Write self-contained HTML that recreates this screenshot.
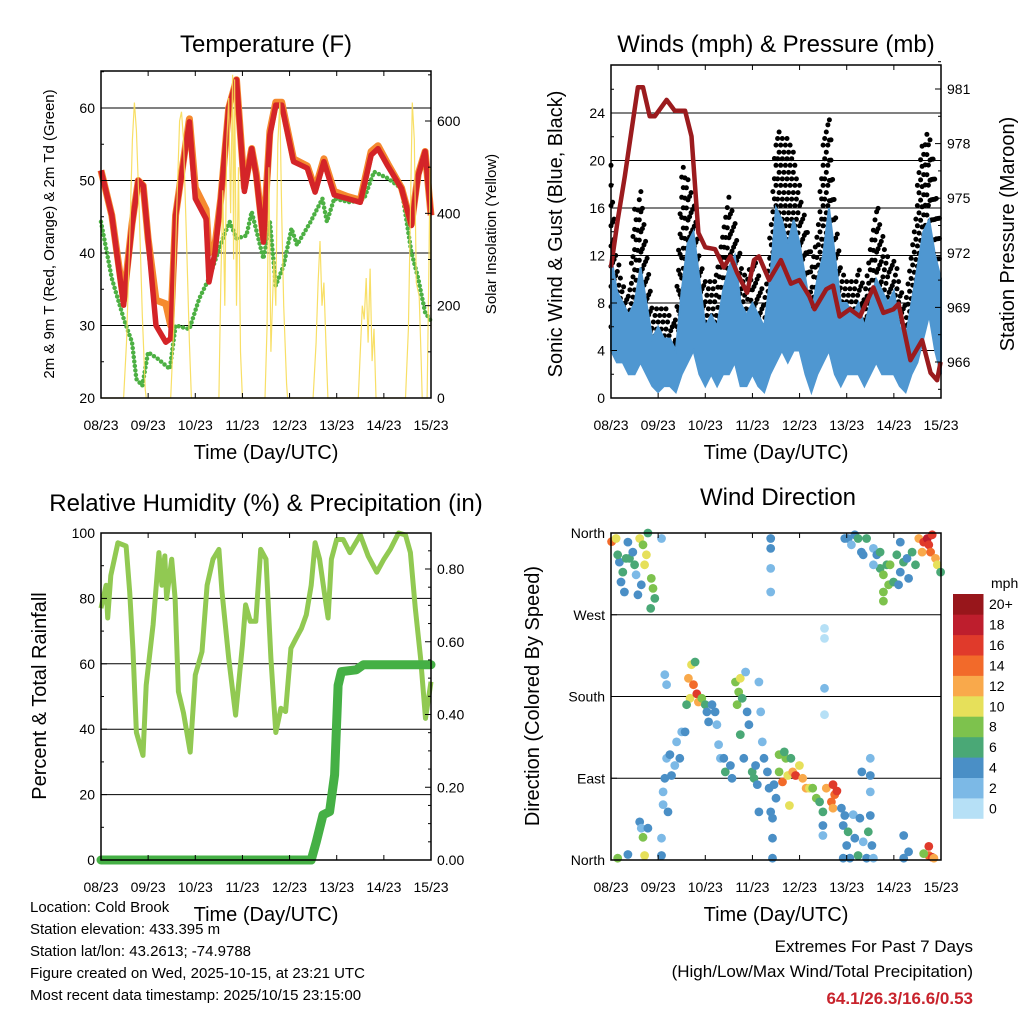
<!DOCTYPE html>
<html><head><meta charset="utf-8"><style>
html,body{margin:0;padding:0;background:#fff;}
svg{display:block;font-family:"Liberation Sans",sans-serif;}
</style></head><body>
<svg id="chart" width="1024" height="1024" viewBox="0 0 1024 1024" xmlns="http://www.w3.org/2000/svg"></svg>
<script>
// ---------- DATA ----------
const dayLabels = ["08/23","09/23","10/23","11/23","12/23","13/23","14/23","15/23"];
const tempHours = [0,5.5,11.5,15.8,19,21.5,24,28,33,35.5,38,45,48,53.5,55,58,61,65,69,73,76.7,79,82.7,86,89,92,98,105,109,113.5,118.7,125.5,132,137.5,141,146,153,158,161.5,165,168];
const tempRed =   [51.4,45.2,32.8,43.8,50,49.3,42,30,27.7,28.2,45.2,58.1,47.5,44.7,36,40,47.5,60,63.9,48.5,54.4,50.7,41.5,56.3,60.4,60.4,52.6,51.7,48.4,52.6,48,47.5,47,53.5,54.4,52,48.9,43.8,50.7,54,45.2];
const tempOrange =[51.4,45.2,33.5,44,50,49.3,42,33.5,33,30,45.2,58.5,49,46,40,41,47.5,60,63.9,49,54.4,51,42,56.8,60.8,60.8,53,52,48.8,53,48.5,47.8,47.3,54,54.8,52.3,49,44,50.9,54,45.2];
const dewHours = [0,5.5,11.5,15.8,18,21,24,29,35,38,45,50,55,62,65.5,69,74,76.7,82.7,86,89,93,97,99.8,106.7,112.7,115,118.7,127,134,139,146,153,158,161.5,165,168];
const dewValues = [44.3,36.5,31,27.7,22.6,21.7,26.3,25.4,24,30,29.5,33.7,36.5,42,44.3,42,42.4,45.7,39.2,44.3,35.5,38.3,43.4,41.1,44.3,47.5,44.3,47.5,47,47.5,51.2,50.3,48.9,40.1,36.5,31.8,30.6];
const solarHours = [0,11.5,13,14.5,16,17,18,19.5,21,22.5,23,35.5,37,38.5,40,41,42,43.5,45,46,60,61,62,63,64,65,66,67,67.5,68,69,70,71,72,83.5,84.5,85.5,86.5,88,89,90,91,92,93,94.5,95,108,109.5,110.5,111.5,112.5,113.5,114.5,115.5,131,132,133,134,135,136,137,138,139,140,155,156.5,157.5,158.5,159.5,160.5,162,163,163.5,166,167,167.5,168];
const solarValues = [0,0,120,330,560,640,580,400,180,20,0,0,150,400,600,620,560,350,120,0,0,250,450,200,550,650,400,700,300,690,200,500,100,0,0,150,500,100,300,200,550,640,400,200,30,0,0,120,250,340,200,250,120,0,0,100,200,170,260,120,280,80,150,0,0,150,400,640,560,250,220,80,0,0,300,500,150];
const windHours = [0,3,6,9,12,15,18,21,24,27,30,33,36,39,42,45,48,51,54,57,60,63,66,69,72,75,78,81,84,87,90,93,96,99,102,105,108,111,114,117,120,123,126,129,132,135,138,141,144,147,150,153,156,159,162,165,168];
const windLow =  [4,3,3,2,2,3,2,1,0.5,1,1,0.5,2,3,4,2,1,2,1,2,2,3,1,1,2,1,0.5,2,3,4,3,4,4,2,0.5,2,3,4,2,1,2,2,2,1,2,3,2,2,2,1,0.5,2,3,5,7,4,2];
const windHigh = [12,9,8,7,8,11,8,5,6,5,5,4,9,13,14,10,6,7,6,9,11,12,8,7,8,7,6,10,16,15,13,15,13,10,7,10,12,16,12,8,8,7,8,6,8,10,9,8,9,6,5,8,11,14,15,12,10];
const gustLow =  [6,5,5,4,4,5,4,3,3,3,3,2,5,6,5,4,3,3,3,4,5,4,3,3,4,3,2,4,6,6,6,6,6,5,3,4,6,6,4,3,3,3,3,2,4,5,4,4,3,3,2,4,6,8,9,7,5];
const gustHigh = [20,12,10,9,16,18,13,8,8,8,7,7,20,19,17,12,10,10,12,14,17,15,12,10,12,11,9,14,23,22,22,21,18,15,12,14,22,25,16,11,10,10,12,9,13,17,14,12,12,10,8,13,18,22,23,19,14];
const pressHours = [0,3.4,7,10.3,13.7,16.3,19.7,22.3,28.3,32.5,37.7,41,44.5,48,53,57.4,60.8,64.2,69.3,72.8,75.3,80.5,86.5,91.6,95.9,101,103.6,109.6,113,116.4,121.6,126.7,133.6,138.7,143.8,146.4,152.4,158.4,162.7,166,167.8];
const pressValues = [971.2,973.8,976.2,978.6,981.1,981.1,979.5,979.5,980.4,979.8,979.8,978.4,973.1,972.3,972.2,971.2,971.8,970.9,969.8,971.6,971.8,970.5,971.6,970.3,970.5,969.6,968.9,970,970.2,968.5,968.9,968.5,970.1,968.7,968.9,969.2,966.1,967.2,965.4,965,966];
const rhHours = [0,2.6,3.4,5,8.6,12.8,14.6,16.3,18,21.4,23,26.5,29.5,31,32.5,33.4,36,37.7,39.4,42,45.4,48,51.4,54,57,60,61.6,65,68.5,72,73.6,76,78.8,81.3,84,86.5,89,91.6,94,96.7,99.3,102,104.5,107,109,111.3,113.9,115.6,117.3,120,123.3,126.7,132,136,140.4,144,147.3,151.5,155,157.5,160,162.7,165.2,168];
const rhValues = [77,84,74,87,97,96,82,64,39,32,53.5,72,94,84,93,80,92,80,51.5,45,33,56.6,63.7,84,92,95,82,61.7,44.3,65.7,78,73,73,95,92,61.7,39,46.4,45.4,64.7,67.8,70.8,75,84,97,92,81,74,92,98,98,94,99.4,93,88,92,95,100,99.4,94,77,61.7,43.3,54.5];
const precipHours = [0,107,109.6,113,116.4,118.9,120.7,122.4,130,133.6,168];
const precipValues = [0,0,0.05,0.124,0.133,0.234,0.48,0.518,0.523,0.537,0.537];
const dirHours = [0.3,2.6,4.3,5.1,6.8,6,8.6,9.4,11.1,12.8,13.7,14.6,16.3,17.1,18,18.8,20.5,21.4,22.3,20.2,25.7,15.4,12,7.7,3.4,
 3.4,8.6,14.6,15.4,16.3,17.1,18.8,
 25.7,25.7,26.5,27.4,28.3,30,30.8,32.5,33.4,35,36,37.7,27.4,28.3,26.5,29,
 39.4,40.2,42,43.7,41,42.8,38.5,44.5,46.2,48,48.8,49.7,51.4,53,53.9,54.8,55.7,57.4,58.2,60.8,61.6,
 63.4,65,65.8,64.2,66.8,68.5,69.3,70.2,65.8,67.6,71.9,72.8,74.5,75.3,76.2,77,77.9,79.6,73.6,75.3,
 80.5,81.3,82.2,82.2,81.3,81.3,81.3,81.3,108.7,108.7,108.7,108.7,
 85.6,87.3,89,90,90.8,92.5,94,95.9,97.6,99.3,101,102.7,104.5,106.2,109.6,113,113.9,115,112.2,113,107.9,107.9,107.9,83,84,82.2,85.6,88.2,91.6,
 117.3,118.2,120,121.6,123.3,124.1,125.8,126.7,128.4,130.1,131,132,132.8,133.6,127.7,132,132,132,118.2,120.7,119,
 149,149,151.5,161.8,163.5,161.8,164.4,159.2,
 119,120.7,122.4,124.1,125.8,127.5,128.4,130.1,133.6,135.3,137,138.7,140.4,138.7,138.7,141.3,143.8,145.5,147.3,146.4,148.9,150.7,151.5,153.3,155,156.7,158.4,159.2,161,161.8,162.7,163.5,165.2,166.1,167.8,147.3,142.1,137,133.6];
const dirDegs = [350.5,354,328,306,295,317,350,332,339,314,292,354,347,325,336,360,310,299,288,277,354,303,325,332,336,
 2,6,42,35,25,5,35,
 5,24,61,90,112,116,93,104,130,112,141,141,204,193,75,53,
 200,178,193,183,215,218,171,174,178,171,163,152,171,163,149,127,112,112,97,104,90,
 196,185,200,171,178,207,163,149,138,112,97,90,83,196,163,130,112,97,104,53,
 79,53,24,2,354,343,321,295,255,244,189,160,
 97,86,112,93,60,97,93,104,90,79,79,79,68,64,79,83,72,76,64,57,53,38,27,83,68,46,116,119,112,
 57,38,16,2,50,24,5,46,20,2,31,49,16,2,97,93,112,75,2,31,49,
 27,2,9,5,3,15,2,7,
 354,354,347,358,354,339,336,354,343,336,321,314,325,295,285,303,306,336,317,303,328,332,310,339,325,354,339,350,354,347,339,358,332,325,317,350,325,339,325];
const dirSpeeds = [14,10,4,4,4,6,4,6,4,2,4,10,8,10,10,6,8,8,6,6,2,4,6,6,6,
 8,4,4,2,8,10,4,
 4,2,2,4,2,4,4,2,2,4,2,4,2,2,2,4,
 12,10,14,16,10,6,6,12,8,6,4,4,4,4,2,2,2,4,6,4,4,
 8,8,10,8,6,2,4,4,6,4,6,6,4,2,2,2,4,4,4,4,
 4,4,4,4,4,4,2,2,0,0,2,0,
 8,14,8,10,10,12,16,10,12,12,10,8,8,6,12,16,14,16,14,12,6,4,2,4,4,4,8,6,6,
 4,4,4,4,2,4,6,4,2,4,6,4,4,2,4,4,2,2,4,6,4,
 4,4,4,14,16,16,12,8,
 4,4,2,4,6,4,4,6,2,4,6,8,6,8,8,8,6,6,4,4,6,4,4,6,6,12,12,16,18,16,14,16,12,10,6,4,8,6,2];
const speedLabels = ["0","2","4","6","8","10","12","14","16","18","20+"];
const speedColors = ["#b6e0f6","#7cb9e6","#4a8fc6","#4aa876","#7dc24d","#e6e05a","#f9a94b","#f26a2a","#e03a2b","#be1e2d","#98161b"];

// ---------- HELPERS ----------
const NS = "http://www.w3.org/2000/svg";
const svg = document.getElementById("chart");
function mk(tag, attrs, parent) {
  const e = document.createElementNS(NS, tag);
  for (const k in attrs) e.setAttribute(k, attrs[k]);
  (parent || svg).appendChild(e);
  return e;
}
function txt(x, y, s, size, anchor, parent, extra) {
  const t = mk("text", Object.assign({x: x, y: y, "font-size": size, "text-anchor": anchor || "middle", fill: "#000"}, extra || {}), parent);
  t.textContent = s;
  return t;
}
function pathD(hs, vs, xf, yf) {
  let d = "";
  for (let i = 0; i < hs.length; i++) d += (i ? "L" : "M") + xf(hs[i]).toFixed(1) + "," + yf(vs[i]).toFixed(1);
  return d;
}
function interp(hs, vs, h) {
  for (let i = 1; i < hs.length; i++) if (h <= hs[i]) { const f = (h - hs[i-1]) / (hs[i] - hs[i-1]); return vs[i-1] + f * (vs[i] - vs[i-1]); }
  return vs[vs.length - 1];
}
function panel(name, x0, x1, y0, y1) {
  const g = mk("g", {});
  
  
  const X = h => x0 + h * (x1 - x0) / 168;
  return {g, X, x0, x1, y0, y1};
}
function frame(p, name) {
  const r = mk("rect", {x: p.x0, y: p.y0, width: p.x1 - p.x0, height: p.y1 - p.y0, fill: "none", stroke: "#000", "stroke-width": 1.5}, p.g);
  
  
}
function xAxis(p, name) {
  const ax = mk("g", {}, p.g);
  
  
  for (let d = 0; d < dayLabels.length; d++) {
    const x = p.X(d * 24);
    mk("line", {x1: x, x2: x, y1: p.y1, y2: p.y1 - 5, stroke: "#000"}, ax);
    mk("line", {x1: x, x2: x, y1: p.y0, y2: p.y0 + 5, stroke: "#000"}, ax);
    const t = txt(x, p.y1 + 32, dayLabels[d], 14, "middle", ax);
    
    
  }
  const tt = txt((p.x0 + p.x1) / 2, p.y1 + 61, "Time (Day/UTC)", 20, "middle", ax);
  
  
}
function hGrid(p, ys) {
  for (const y of ys) {
    const l = mk("line", {x1: p.x0, x2: p.x1, y1: y, y2: y, stroke: "#000", "stroke-width": 1}, p.g);
    
    
  }
}
function yTicks(p, vals, labels, yf, side, name, minor) {
  const ax = mk("g", {}, p.g);
  
  
  const xe = side === "left" ? p.x0 : p.x1;
  const dir = side === "left" ? 1 : -1;
  vals.forEach((v, i) => {
    const y = yf(v);
    mk("line", {x1: xe, x2: xe + dir * 6, y1: y, y2: y, stroke: "#000"}, ax);
    const t = txt(side === "left" ? xe - 6 : xe + 6, y + 5, labels[i], 14, side === "left" ? "end" : "start", ax);
    
    
  });
  (minor || []).forEach(v => { const y = yf(v); mk("line", {x1: xe, x2: xe + dir * 3, y1: y, y2: y, stroke: "#000"}, ax); });
}
function rotTitle(x, y, s, size, name) {
  const t = txt(0, 0, s, size, "middle", svg, {transform: "translate(" + x + "," + y + ") rotate(-90)"});
  
  
}
function title(x, y, s, name) {
  const t = txt(x, y, s, 24, "middle");
  
  
}

// ---------- PANEL 1: TEMPERATURE ----------
{
  const p = panel("temperature-panel", 101, 431, 71, 398);
  const tY = v => 398 - (v - 20) * 7.25;
  const sY = v => 398 - v * 277 / 600;
  hGrid(p, [tY(30), tY(40), tY(50), tY(60)]);
  const dew = mk("path", {d: pathD(dewHours, dewValues, p.X, tY), fill: "none", stroke: "#4cb043", "stroke-width": 4.5, "stroke-linecap": "round", "stroke-dasharray": "0 4.5"}, p.g);
  
  
  const orange = mk("path", {d: pathD(tempHours, tempOrange, p.X, tY), fill: "none", stroke: "#f58a2f", "stroke-width": 7, "stroke-linejoin": "round"}, p.g);
  
  
  const red = mk("path", {d: pathD(tempHours, tempRed, p.X, tY), fill: "none", stroke: "#d42428", "stroke-width": 5.5, "stroke-linejoin": "round"}, p.g);
  
  
  const sol = mk("path", {d: pathD(solarHours, solarValues, p.X, sY), fill: "none", stroke: "#f7dc55", "stroke-width": 1.2, opacity: 0.9}, p.g);
  
  
  frame(p, "temperature");
  xAxis(p, "temperature");
  yTicks(p, [20,30,40,50,60], ["20","30","40","50","60"], tY, "left", "temperature-y-axis", [25,35,45,55,65]);
  yTicks(p, [0,200,400,600], ["0","200","400","600"], sY, "right", "solar-y-axis", [100,300,500,700]);
  title(266, 52, "Temperature (F)", "temperature-title");
  rotTitle(54, 234, "2m & 9m T (Red, Orange) & 2m Td (Green)", 15, "temperature-y-axis-title");
  rotTitle(496, 234, "Solar Insolation (Yellow)", 15, "solar-y-axis-title");
}

// ---------- PANEL 2: WINDS ----------
{
  const p = panel("winds-panel", 611, 941, 65, 398);
  const wY = v => 398 - v * 285 / 24;
  const pY = v => 362 - (v - 966) * 273 / 15;
  hGrid(p, [wY(4), wY(8), wY(12), wY(16), wY(20), wY(24)]);
  const gg = mk("g", {fill: "#000"}, p.g);
  
  
  let col = 0;
  for (let h = 0; h <= 168; h += 0.8, col++) {
    const lo = interp(windHours, gustLow, h), hi = interp(windHours, gustHigh, h);
    const off = (col % 3) * 0.55;
    for (let v = lo + off; v <= hi; v += 1.7) mk("circle", {cx: p.X(h).toFixed(1), cy: wY(v).toFixed(1), r: 2.5}, gg);
  }
  let d = pathD(windHours, windHigh, p.X, wY);
  for (let i = windHours.length - 1; i >= 0; i--) d += "L" + p.X(windHours[i]).toFixed(1) + "," + wY(windLow[i]).toFixed(1);
  const band = mk("path", {d: d + "Z", fill: "#4f97d1", stroke: "#4f97d1", "stroke-width": 2}, p.g);
  
  
  const pr = mk("path", {d: pathD(pressHours, pressValues, p.X, pY), fill: "none", stroke: "#9b1b1e", "stroke-width": 4.5, "stroke-linejoin": "round"}, p.g);
  
  
  frame(p, "winds");
  xAxis(p, "winds");
  yTicks(p, [0,4,8,12,16,20,24], ["0","4","8","12","16","20","24"], wY, "left", "wind-y-axis", [2,6,10,14,18,22,26]);
  yTicks(p, [966,969,972,975,978,981], ["966","969","972","975","978","981"], pY, "right", "pressure-y-axis", [964.5,967.5,970.5,973.5,976.5,979.5,982.5]);
  title(776, 52, "Winds (mph) & Pressure (mb)", "winds-title");
  rotTitle(562, 234, "Sonic Wind & Gust (Blue, Black)", 20, "wind-y-axis-title");
  rotTitle(1014, 234, "Station Pressure (Maroon)", 20, "pressure-y-axis-title");
}

// ---------- PANEL 3: RH & PRECIP ----------
{
  const p = panel("humidity-panel", 101, 431, 533, 860);
  const rY = v => 860 - v * 3.27;
  const prY = v => 860 - v * 363.75;
  hGrid(p, [rY(20), rY(40), rY(60), rY(80)]);
  const rh = mk("path", {d: pathD(rhHours, rhValues, p.X, rY), fill: "none", stroke: "#91c952", "stroke-width": 5, "stroke-linejoin": "round"}, p.g);
  
  
  const pc = mk("path", {d: pathD(precipHours, precipValues, p.X, prY), fill: "none", stroke: "#45b045", "stroke-width": 9, "stroke-linecap": "round", "stroke-linejoin": "round"}, p.g);
  
  
  frame(p, "humidity");
  xAxis(p, "humidity");
  yTicks(p, [0,20,40,60,80,100], ["0","20","40","60","80","100"], rY, "left", "humidity-y-axis", [10,30,50,70,90]);
  yTicks(p, [0,0.2,0.4,0.6,0.8], ["0.00","0.20","0.40","0.60","0.80"], prY, "right", "precip-y-axis", [0.05,0.1,0.15,0.25,0.3,0.35,0.45,0.5,0.55,0.65,0.7,0.75,0.85]);
  title(266, 511, "Relative Humidity (%) & Precipitation (in)", "humidity-title");
  rotTitle(46, 696, "Percent & Total Rainfall", 20, "humidity-y-axis-title");
}

// ---------- PANEL 4: WIND DIRECTION ----------
{
  const p = panel("wind-direction-panel", 611, 941, 533, 860);
  const dY = v => 860 - v * 327 / 360;
  hGrid(p, [dY(90), dY(180), dY(270)]);
  const sg = mk("g", {}, p.g);
  
  
  for (let i = 0; i < dirHours.length; i++) {
    const idx = Math.max(0, Math.min(10, Math.round(dirSpeeds[i] / 2)));
    const c = mk("circle", {cx: p.X(dirHours[i]).toFixed(1), cy: dY(dirDegs[i]).toFixed(1), r: 4.4, fill: speedColors[idx]}, sg);
    
    
  }
  frame(p, "wind-direction");
  xAxis(p, "wind-direction");
  yTicks(p, [0,90,180,270,360], ["North","East","South","West","North"], dY, "left", "direction-y-axis", []);
  title(778, 505, "Wind Direction", "wind-direction-title");
  rotTitle(539, 696, "Direction (Colored By Speed)", 20, "direction-y-axis-title");
  const cb = mk("g", {});
  
  
  const bh = 224.5 / speedColors.length;
  for (let i = 0; i < speedColors.length; i++) {
    const y = 594 + (speedColors.length - 1 - i) * bh;
    const r = mk("rect", {x: 953, y: y.toFixed(1), width: 30.5, height: (bh + 0.3).toFixed(1), fill: speedColors[i]}, cb);
    
    
    const t = txt(989, y + bh / 2 + 5, speedLabels[i], 14, "start", cb);
    
    
  }
  const u = txt(991, 588, "mph", 14, "start", cb);
  
  
}

// ---------- FOOTER TEXT ----------
const info = ["Location: Cold Brook","Station elevation: 433.395 m","Station lat/lon: 43.2613; -74.9788","Figure created on Wed, 2025-10-15, at 23:21 UTC","Most recent data timestamp: 2025/10/15 23:15:00"];
info.forEach((s, i) => {
  const t = txt(30, 912 + i * 22, s, 15, "start");
  
  
});
{
  const a = txt(973, 952, "Extremes For Past 7 Days", 17, "end");
  
  
  const b = txt(973, 977, "(High/Low/Max Wind/Total Precipitation)", 17, "end");
  
  
  const c = txt(973, 1004, "64.1/26.3/16.6/0.53", 17, "end", svg, {fill: "#c8232c", "font-weight": "bold"});
  
  
}
</script>
</body></html>
